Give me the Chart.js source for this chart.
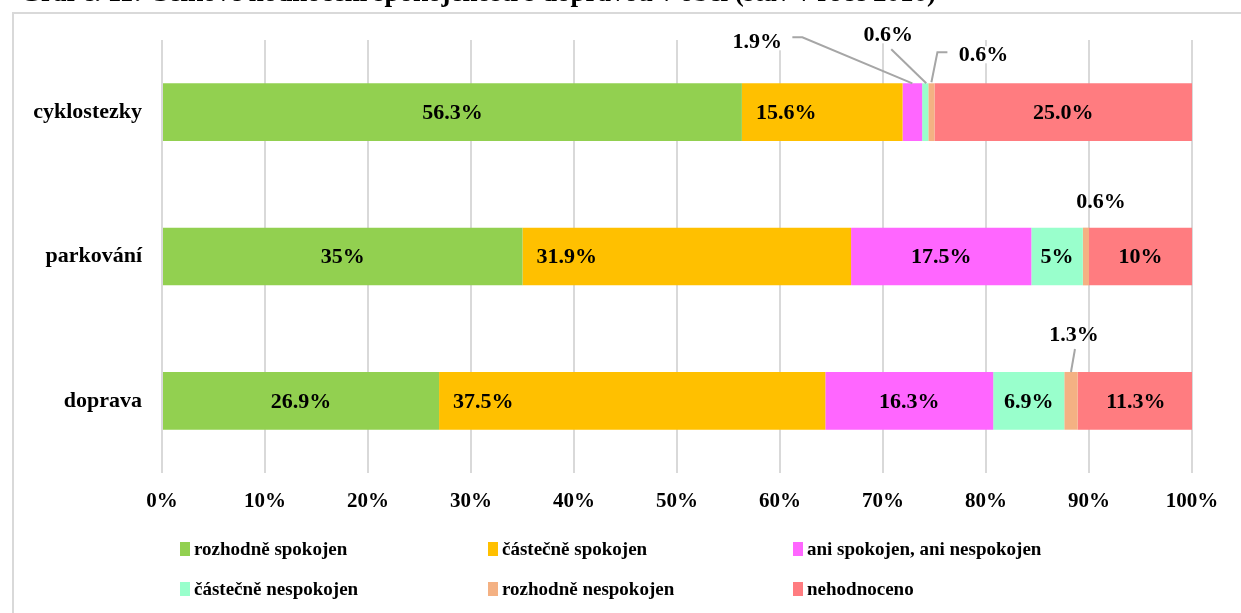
<!DOCTYPE html>
<html><head><meta charset="utf-8">
<script src="https://cdn.jsdelivr.net/npm/chart.js@4/dist/chart.umd.min.js"></script>
<style>
html,body{margin:0;padding:0;background:#fff;overflow:hidden;}
#wrap{position:relative;width:1241px;height:613px;}
#frame{position:absolute;left:12px;top:12px;width:1300px;height:700px;border:2px solid #D9D9D9;box-sizing:border-box;}
canvas{position:absolute;left:0;top:0;}
</style></head><body>
<div id="wrap"><div id="frame"></div><canvas id="c" width="1241" height="613"></canvas></div>
<script>
const titleText = 'Graf č. 11: Celkové hodnocení spokojenosti s dopravou v obci (stav v roce 2016)';
const categories = ['cyklostezky', 'parkování', 'doprava'];
const seriesNames = ['rozhodně spokojen', 'částečně spokojen', 'ani spokojen, ani nespokojen',
                     'částečně nespokojen', 'rozhodně nespokojen', 'nehodnoceno'];
const rozhodneSpokojen   = [56.3, 35, 26.9];
const castecneSpokojen   = [15.6, 31.9, 37.5];
const aniAni             = [1.9, 17.5, 16.3];
const castecneNespokojen = [0.6, 5, 6.9];
const rozhodneNespokojen = [0.6, 0.6, 1.3];
const nehodnoceno        = [25.0, 10, 11.3];
const rozhodneSpokojenLbl   = ['56.3%', '35%', '26.9%'];
const castecneSpokojenLbl   = ['15.6%', '31.9%', '37.5%'];
const aniAniLbl             = ['1.9%', '17.5%', '16.3%'];
const castecneNespokojenLbl = ['0.6%', '5%', '6.9%'];
const rozhodneNespokojenLbl = ['0.6%', '0.6%', '1.3%'];
const nehodnocenoLbl        = ['25.0%', '10%', '11.3%'];
const xTicks = [0,10,20,30,40,50,60,70,80,90,100];

const colors = ['#92D050', '#FFC000', '#FF66FF', '#99FFCC', '#F4B183', '#FF7C80'];
const values = [rozhodneSpokojen, castecneSpokojen, aniAni, castecneNespokojen, rozhodneNespokojen, nehodnoceno];
const lbls = [rozhodneSpokojenLbl, castecneSpokojenLbl, aniAniLbl, castecneNespokojenLbl, rozhodneNespokojenLbl, nehodnocenoLbl];

const FF = '"Liberation Serif", "Times New Roman", serif';

// callout placement relative to bar top-centre (dataset-index)
const callouts = {
  '2-0': {dx: -155, dy: -41, box: true, line: [[0,0],[-110,-46],[-120,-46]]},
  '3-0': {dx: -37, dy: -48, box: true, line: [[1,0],[-34,-34]]},
  '4-0': {dx: 52, dy: -28, box: true, line: [[0,-1],[6,-31],[16,-31]]},
  '4-1': {dx: 15, dy: -25},
  '4-2': {dx: 3, dy: -37, line: [[0,0],[4,-23]]}
};

const labelPlugin = {
  id: 'labelPlugin',
  afterDatasetsDraw(chart) {
    const ctx = chart.ctx;
    ctx.save();
    ctx.font = 'bold 22px ' + FF;
    ctx.textBaseline = 'middle';
    chart.data.datasets.forEach((ds, di) => {
      const meta = chart.getDatasetMeta(di);
      meta.data.forEach((el, i) => {
        const txt = ds.labelTexts[i];
        const start = Math.min(el.base, el.x), end = Math.max(el.base, el.x);
        const cx = (start + end) / 2, top = el.y - el.height / 2;
        const co = callouts[di + '-' + i];
        if (co) {
          if (co.line) {
            ctx.strokeStyle = '#A6A6A6'; ctx.lineWidth = 2;
            ctx.beginPath();
            co.line.forEach((p, k) => { const X = cx + p[0], Y = top + p[1]; k ? ctx.lineTo(X, Y) : ctx.moveTo(X, Y); });
            ctx.stroke();
          }
          const w = ctx.measureText(txt).width;
          const lx = cx + co.dx, ly = top + co.dy;
          if (co.box) { ctx.fillStyle = '#fff'; ctx.fillRect(lx - w/2 - 2, ly - 9, w + 4, 17); }
          ctx.fillStyle = '#000'; ctx.textAlign = 'center';
          ctx.fillText(txt, lx, ly);
        } else if (di === 1) {
          ctx.fillStyle = '#000'; ctx.textAlign = 'left';
          ctx.fillText(txt, start + 14, el.y + 1);
        } else {
          ctx.fillStyle = '#000'; ctx.textAlign = 'center';
          ctx.fillText(txt, cx, el.y + 1);
        }
      });
    });
    ctx.restore();
  },
  afterDraw(chart) {
    const ctx = chart.ctx;
    ctx.save();
    // legend
    const colX = [180, 488, 793], rowY = [549, 589];
    ctx.font = 'bold 19px ' + FF;
    ctx.textBaseline = 'middle'; ctx.textAlign = 'left';
    chart.data.datasets.forEach((ds, di) => {
      const x = colX[di % 3], y = rowY[Math.floor(di / 3)];
      ctx.fillStyle = ds.backgroundColor;
      ctx.fillRect(x, y - 7, 10, 14);
      ctx.fillStyle = '#000';
      ctx.fillText(ds.label, x + 14, y + 1);
    });
    // clipped title
    ctx.font = 'bold 27px ' + FF;
    ctx.textBaseline = 'alphabetic';
    ctx.fillText(titleText, 20, 1);
    ctx.restore();
  }
};

new Chart(document.getElementById('c'), {
  type: 'bar',
  data: {
    labels: categories,
    datasets: values.map((v, i) => ({
      label: seriesNames[i], data: v, labelTexts: lbls[i],
      backgroundColor: colors[i], borderWidth: 0,
      categoryPercentage: 0.5, barPercentage: 0.8
    }))
  },
  options: {
    indexAxis: 'y', responsive: false, animation: false,
    layout: {padding: {left: 0, top: 40, right: 49, bottom: 90}},
    plugins: {legend: {display: false}, tooltip: {enabled: false}, title: {display: false}},
    scales: {
      x: {
        stacked: true, min: 0, max: 100,
        afterBuildTicks(s) { s.ticks = xTicks.map(v => ({value: v})); },
        afterFit(s) { s.height = 50; },
        ticks: {callback: v => v + '%', color: '#000', font: {family: FF, size: 21, weight: 'bold'}, padding: 16, maxRotation: 0},
        grid: {color: '#D9D9D9', lineWidth: 2, drawTicks: false},
        border: {display: false}
      },
      y: {
        stacked: true,
        afterFit(s) { s.width = 162; },
        ticks: {color: '#000', font: {family: FF, size: 22, weight: 'bold'}, padding: 20},
        grid: {display: false, drawTicks: false},
        border: {display: false}
      }
    }
  },
  plugins: [labelPlugin]
});
</script>
</body></html>
